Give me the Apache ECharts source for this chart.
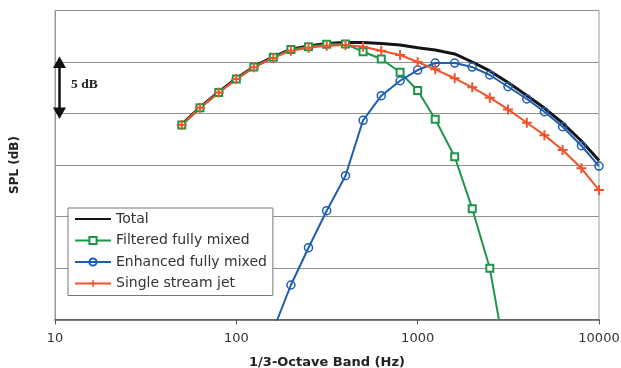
<!DOCTYPE html>
<html>
<head>
<meta charset="utf-8">
<script src="https://cdn.jsdelivr.net/npm/echarts@6/dist/echarts.min.js"></script>
<style>
html,body{margin:0;padding:0;background:#fff;}
#chart{width:621px;height:368px;}
</style>
</head>
<body>
<div id="chart"></div>
<script>
// 1/3-octave band centre frequencies (Hz)
const bands = [50,63,80,100,125,160,200,250,315,400,500,630,800,1000,1250,1600,2000,2500,3150,4000,5000,6300,8000,10000];
// relative SPL (dB), bottom of the plot = 0, one gridline = 5 dB
const total    = [18.93,20.6,22.1,23.4,24.55,25.5,26.25,26.55,26.8,26.9,26.9,26.8,26.65,26.39,26.17,25.78,25.0,24.13,23.0,21.75,20.53,19.08,17.33,15.44];
const filtered = [18.88,20.56,22.04,23.35,24.51,25.46,26.21,26.49,26.72,26.75,26.0,25.29,24.0,22.23,19.44,15.8,10.76,4.97,-5.0,null,null,null,null,null];
const enhanced = [null,null,null,null,null,-1.0,3.35,6.97,10.56,13.96,19.34,21.73,23.18,24.22,24.9,24.9,24.51,23.74,22.6,21.41,20.17,18.72,16.87,14.9];
const single   = [18.88,20.56,22.04,23.35,24.5,25.4,26.1,26.38,26.58,26.65,26.49,26.1,25.68,25.0,24.29,23.42,22.54,21.54,20.4,19.1,17.9,16.46,14.68,12.57];
const xTicks = [10,100,1000,10000];
const seriesNames = ['Total','Filtered fully mixed','Enhanced fully mixed','Single stream jet'];

const C_BLACK = '#141414', C_GREEN = '#1f9548', C_BLUE = '#1d5db3', C_RED = '#f0542a';
const pairs = arr => bands.map((f,i) => [f, arr[i]]);

const chart = echarts.init(document.getElementById('chart'), null, {renderer:'canvas'});
const option = {
  animation: false,
  backgroundColor: '#fff',
  grid: {left:55, right:22, top:10.5, bottom:48.5, outerBoundsMode:'none', containLabel:false,
    show:true, borderColor:'#999', borderWidth:1, backgroundColor:'transparent'},
  legend: {
    orient:'vertical', left:68, top:208,
    data: [
      {name:seriesNames[0], itemStyle:{color:'rgba(0,0,0,0)', borderWidth:0, opacity:0}},
      {name:seriesNames[1]},
      {name:seriesNames[2]},
      {name:seriesNames[3]}
    ],
    itemWidth:36, itemHeight:9, itemGap:7.5,
    padding:[4,6,5,6],
    backgroundColor:'#fff', borderColor:'#777', borderWidth:1, borderRadius:0,
    textStyle:{fontFamily:'DejaVu Sans', fontSize:14, color:'#333', lineHeight:14}
  },
  xAxis: {
    type:'log', logBase:10, min:10, max:10000,
    name:'1/3-Octave Band (Hz)', nameLocation:'middle', nameGap:37,
    nameTextStyle:{fontFamily:'DejaVu Sans', fontWeight:'bold', fontSize:13, color:'#222'},
    axisLine:{lineStyle:{color:'#555', width:1.5}},
    axisTick:{show:true, length:5, lineStyle:{color:'#555'}},
    axisLabel:{fontFamily:'DejaVu Sans', fontSize:13, color:'#333', margin:13,
      formatter: v => xTicks.indexOf(Math.round(v)) >= 0 ? String(Math.round(v)) : ''},
    splitLine:{show:false}
  },
  yAxis: {
    type:'value', min:0, max:30, interval:5,
    name:'SPL (dB)', nameLocation:'middle', nameGap:34,
    nameTextStyle:{fontFamily:'DejaVu Sans', fontWeight:'bold', fontSize:12, color:'#222'},
    axisLine:{show:true, lineStyle:{color:'#999', width:1}},
    axisTick:{show:false},
    axisLabel:{show:false},
    splitLine:{show:true, lineStyle:{color:'#929292', width:1}}
  },
  series: [
    {name:seriesNames[0], type:'line', data:pairs(total), symbol:'none', clip:true,
      lineStyle:{color:C_BLACK, width:3}, itemStyle:{color:C_BLACK}},
    {name:seriesNames[1], type:'line', data:pairs(filtered), symbol:'emptyRect', symbolSize:7, clip:true,
      lineStyle:{color:C_GREEN, width:2}, itemStyle:{color:C_GREEN, borderColor:C_GREEN, borderWidth:1.5}},
    {name:seriesNames[2], type:'line', data:pairs(enhanced), symbol:'circle', symbolSize:8, clip:true,
      lineStyle:{color:C_BLUE, width:2}, itemStyle:{color:'rgba(0,0,0,0)', borderColor:C_BLUE, borderWidth:1.5}},
    {name:seriesNames[3], type:'line', data:pairs(single), symbol:'path://M4,0H6V10H4Z M0,4H10V6H0Z', symbolSize:10, clip:true,
      lineStyle:{color:C_RED, width:2}, itemStyle:{color:C_RED}}
  ]
};
chart.setOption(option);

// "5 dB" scale annotation between two gridlines
const xl = chart.convertToPixel({xAxisIndex:0}, 10);
const yTop = chart.convertToPixel({yAxisIndex:0}, 25);
const yBot = chart.convertToPixel({yAxisIndex:0}, 20);
const ax = xl + 4.5, head = 11.5, half = 6.5;
chart.setOption({
  graphic: [
    {type:'line', shape:{x1:ax, y1:yTop+5, x2:ax, y2:yBot-5}, style:{stroke:'#111', lineWidth:2.5}, z:100},
    {type:'polygon', shape:{points:[[ax, yTop-5.5],[ax-half, yTop-5.5+head],[ax+half, yTop-5.5+head]]}, style:{fill:'#111'}, z:100},
    {type:'polygon', shape:{points:[[ax, yBot+5.5],[ax-half, yBot+5.5-head],[ax+half, yBot+5.5-head]]}, style:{fill:'#111'}, z:100},
    {type:'text', x:ax+11.5, y:(yTop+yBot)/2-3, style:{text:'5 dB', font:'bold 13.5px "Liberation Serif"', fill:'#222', textVerticalAlign:'middle'}, z:100}
  ]
});
</script>
</body>
</html>
